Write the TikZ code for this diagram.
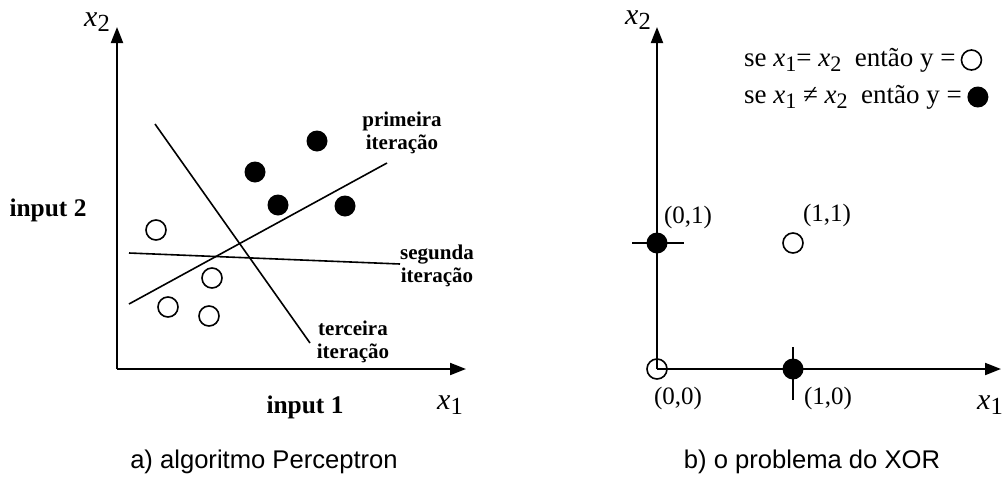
\documentclass[tikz,border=0pt]{standalone}
\usepackage{graphicx}
\usepackage{fontspec}
\setmainfont{Liberation Serif}
\newfontfamily\capfont{Liberation Sans}
\usepackage{tikz}
\usetikzlibrary{arrows.meta, positioning}
\newcommand{\xsub}[1]{\textit{x}\raisebox{-0.4ex}{\scalebox{0.82}{#1}}}
\tikzset{
  axis/.style={line width=1pt, -{Triangle[length=8pt,width=6pt]}},
  sepline/.style={line width=0.8pt},
  tickline/.style={line width=0.8pt},
  ptfill/.style={circle, fill=black, inner sep=0pt, minimum size=10.5pt},
  ptopen/.style={circle, draw=black, line width=0.8pt,
                 inner sep=0pt, minimum size=10pt},
  lbl/.style={font=\fontsize{12.5}{14}\selectfont},
  leg/.style={font=\fontsize{13.5}{15}\selectfont},
  itlbl/.style={font=\fontsize{10.5}{11.5}\selectfont\bfseries, align=center},
  inlbl/.style={font=\fontsize{12.7}{14}\selectfont\bfseries},
  axlbl/.style={font=\fontsize{15}{16}\selectfont},
  captxt/.style={font=\capfont\fontsize{12.8}{14}\selectfont}
}

\begin{document}
\begin{tikzpicture}[x=0.5pt, y=-0.5pt]
  \useasboundingbox (0,0) rectangle (1002,477);

  %% a) algoritmo Perceptron
  \coordinate (oa) at (117,369);
  \coordinate (ya) at (117,27);
  \coordinate (xa) at (466,369);
  \draw[axis] (oa) -- (ya);
  \draw[axis] (oa) -- (xa);
  \node[axlbl] (xtwoa) at (97,22) {\xsub{2}};
  \node[axlbl] (xonea) at (450,405) {\xsub{1}};
  \node[inlbl] (intwo) at (48,210) {input 2};
  \node[inlbl] (inone) at (305,407) {input 1};

  \draw[sepline] (129,304) -- (387,163);
  \draw[sepline] (129,253) -- (400,264);
  \draw[sepline] (155,124) -- (310,343);

  \node[ptfill] (f1) at (255,172) {};
  \node[ptfill] (f2) at (317,141) {};
  \node[ptfill] (f3) at (278,205) {};
  \node[ptfill] (f4) at (345,206) {};
  \node[ptopen] (o1) at (156,230) {};
  \node[ptopen] (o2) at (212,278) {};
  \node[ptopen] (o3) at (168,307) {};
  \node[ptopen] (o4) at (209,316) {};

  \node[itlbl] (it1) at (402,133) {primeira\\iteração};
  \node[itlbl] (it2) at (437,266) {segunda\\iteração};
  \node[itlbl] (it3) at (353,342) {terceira\\iteração};

  \node[captxt] (capa) at (264,462) {a) algoritmo Perceptron};

  %% b) o problema do XOR
  \coordinate (ob) at (657,369);
  \coordinate (yb) at (657,27);
  \coordinate (xb) at (1001,369);
  \draw[axis] (ob) -- (yb);
  \draw[axis] (ob) -- (xb);
  \node[axlbl] (xtwob) at (638,20) {\xsub{2}};
  \node[axlbl] (xoneb) at (990,405) {\xsub{1}};

  \node[leg, anchor=west] (leg1) at (737,60) {se \xsub{1}= \xsub{2} \ então y =};
  \node[ptopen, right=-1pt of leg1] (lego) {};
  \node[leg, anchor=west] (leg2) at (737,97) {se \xsub{1} ≠ \xsub{2} \ então y =};
  \node[ptfill, right=-1pt of leg2] (legf) {};

  \draw[tickline] (632,243) -- (684,243);
  \draw[tickline] (793,347) -- (793,400);
  \node[ptfill] (q01) at (657,243) {};
  \node[ptopen] (q11) at (793,243) {};
  \node[ptopen] (q00) at (657,369) {};
  \node[ptfill] (q10) at (793,369) {};

  \node[lbl] (l01) at (688,217) {(0,1)};
  \node[lbl] (l11) at (827,215) {(1,1)};
  \node[lbl] (l00) at (678,398) {(0,0)};
  \node[lbl] (l10) at (828,398) {(1,0)};

  \node[captxt] (capb) at (812,462) {b) o problema do XOR};

\end{tikzpicture}
\end{document}
